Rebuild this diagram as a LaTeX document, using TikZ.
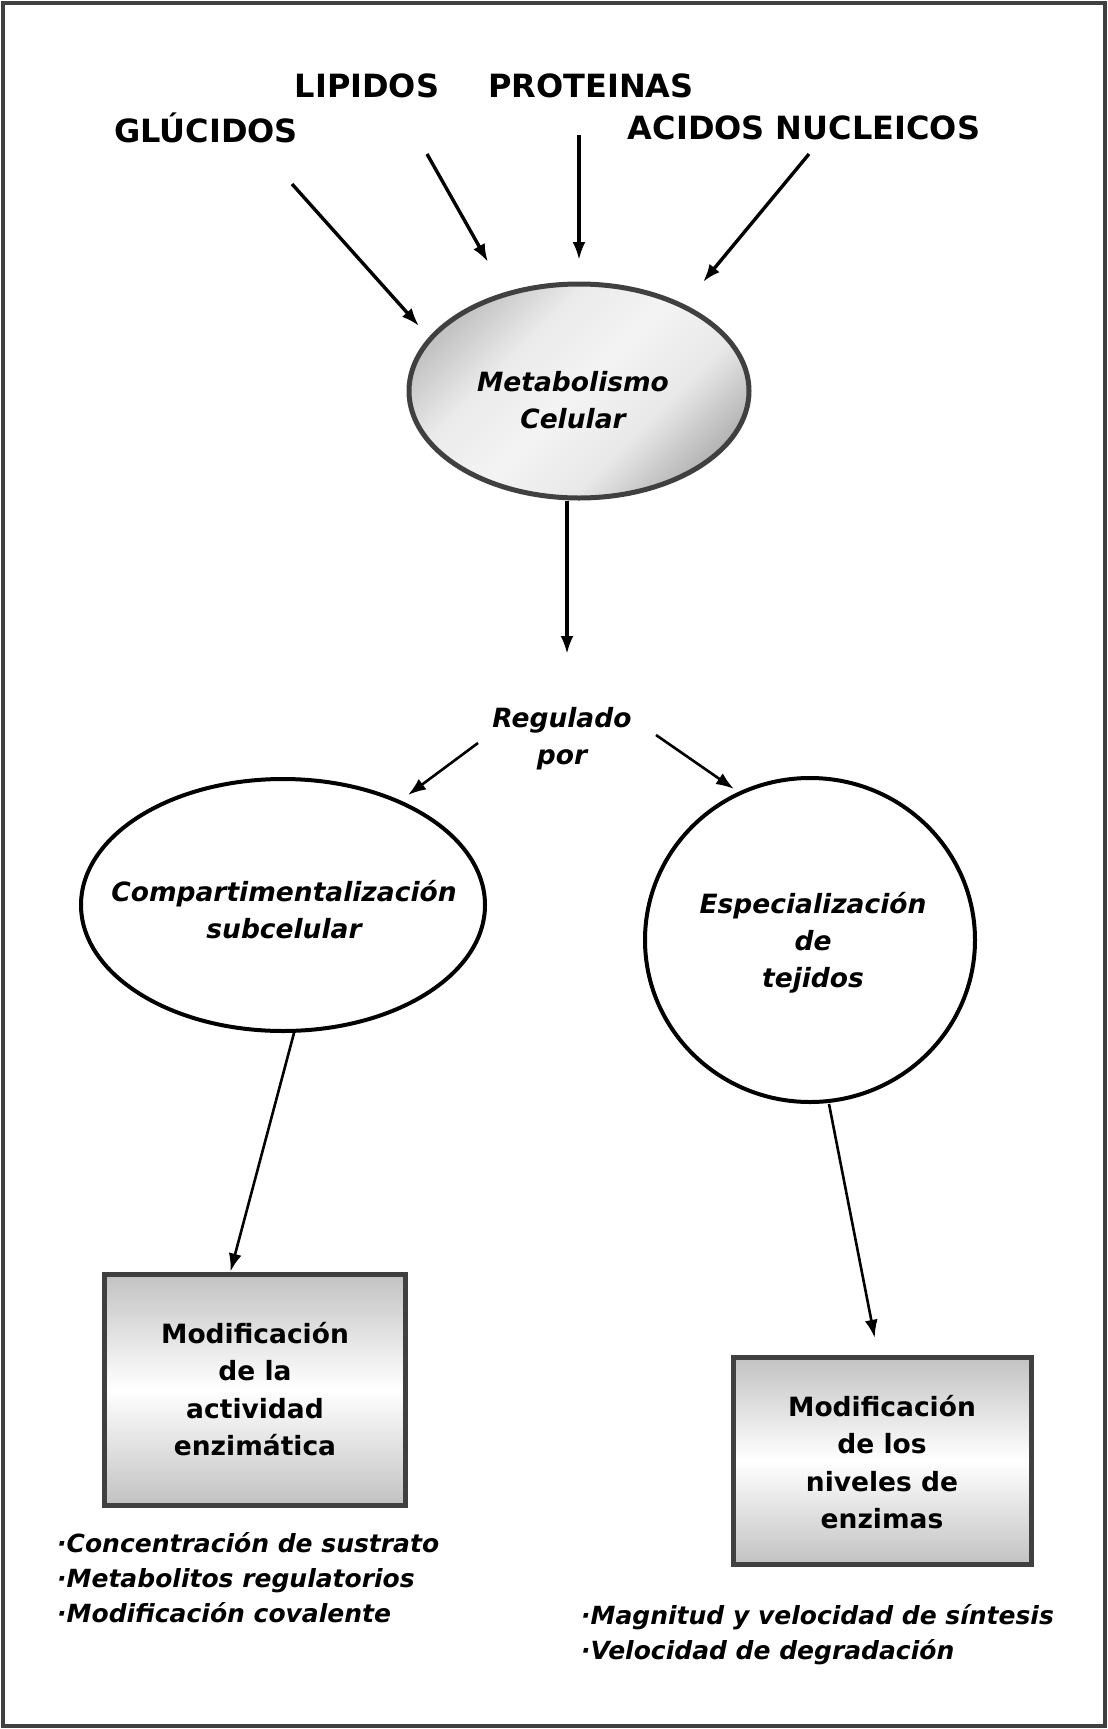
\documentclass[tikz,border=0pt]{standalone}
\usepackage{fontspec}
\setmainfont{DejaVu Sans}
\usetikzlibrary{arrows.meta,shapes.geometric,positioning}

\pgfdeclareverticalshading{metashade}{100bp}{color(0bp)=(gray!62); color(25bp)=(gray!58);
  color(37bp)=(gray!18); color(50bp)=(gray!9); color(63bp)=(gray!16); color(75bp)=(gray!48);
  color(100bp)=(gray!52)}

\begin{document}
\begin{tikzpicture}[
  x=1pt, y=-1pt,
  >={Latex[length=18pt,width=13pt]},
  toplabel/.style={font=\bfseries\fontsize{32}{36}\selectfont, inner sep=0pt},
  italtext/.style={font=\bfseries\itshape\fontsize{26.5}{37}\selectfont, align=center},
  boxtext/.style={font=\bfseries\fontsize{26.5}{37.5}\selectfont, align=center},
  listtext/.style={font=\bfseries\itshape\fontsize{25}{35}\selectfont, align=left, inner sep=0pt},
  shadedellipse/.style={ellipse, draw=black!75, line width=5pt, inner sep=0pt,
    shading=metashade, shading angle=45},
  plainellipse/.style={ellipse, draw, line width=4pt, inner sep=0pt, fill=white},
  shadedbox/.style={draw=black!75, line width=5pt, inner sep=0pt,
    top color=gray!48, bottom color=gray!48, middle color=white},
  arrow/.style={->, line width=3.4pt},
  thinarrow/.style={->, line width=2.6pt}
]

\useasboundingbox (0,0) rectangle (1108,1729);
\draw[black!75, line width=4pt] (3,3) rectangle (1105,1726);

% entradas
\node[toplabel] (lip) at (367,86) {LIPIDOS};
\node[toplabel] (prot) at (591,86) {PROTEINAS};
\node[toplabel] (glu) at (206,128) {GLÚCIDOS};
\node[toplabel] (acid) at (804,128) {ACIDOS NUCLEICOS};

\node[shadedellipse, minimum width=340pt, minimum height=214pt] (meta) at (579,391) {};
\node[italtext] (metaText) at (573,400) {Metabolismo\\Celular};

\node[italtext] (reg) at (562,739) {Regulado\\por};

\node[plainellipse, minimum width=404pt, minimum height=252pt] (comp) at (283,905) {};
\node[italtext] (compText) at (284,910) {Compartimentalización\\subcelular};

\node[plainellipse, minimum width=330pt, minimum height=324pt] (esp) at (810,940) {};
\node[italtext] (espText) at (813,943) {Especialización\\de\\tejidos};

\node[shadedbox, minimum width=301pt, minimum height=231pt] (act) at (254.5,1389.5) {};
\node[boxtext] (actText) at (255,1389) {Modificación\\de la\\actividad\\enzimática};

\node[shadedbox, minimum width=298pt, minimum height=207pt] (niv) at (882,1460.5) {};
\node[boxtext] (nivText) at (882,1462) {Modificación\\de los\\niveles de\\enzimas};

\node[listtext, anchor=west] (actList) at (57,1578)
  {·Concentración de sustrato\\·Metabolitos regulatorios\\·Modificación covalente};
\node[listtext, anchor=west] (nivList) at (581,1635)
  {·Magnitud y velocidad de síntesis\\·Velocidad de degradación};

% extremos libres de las flechas
\coordinate (gluT) at (292,184);
\coordinate (gluH) at (419,326);
\coordinate (lipT) at (427,154);
\coordinate (lipH) at (488,262);
\coordinate (protT) at (579,135);
\coordinate (protH) at (579,260);
\coordinate (acidT) at (809,154);
\coordinate (acidH) at (703,282);
\coordinate (regIn) at (567,654);
\coordinate (regL) at (478,743);
\coordinate (compIn) at (408,795);
\coordinate (regR) at (656,735);
\coordinate (espIn) at (734,789);

\draw[arrow] (gluT) -- (gluH);
\draw[arrow] (lipT) -- (lipH);
\draw[arrow] (protT) -- (protH);
\draw[arrow] (acidT) -- (acidH);

\draw[arrow] (meta.south -| regIn) -- (regIn);
\draw[thinarrow] (regL) -- (compIn);
\draw[thinarrow] (regR) -- (espIn);

\draw[thinarrow] ([xshift=11pt]comp.south) -- ([xshift=-24pt]act.north);
\draw[thinarrow, shorten >=17pt] ([xshift=19pt]esp.south) -- ([xshift=-4pt]niv.north);

\end{tikzpicture}
\end{document}
